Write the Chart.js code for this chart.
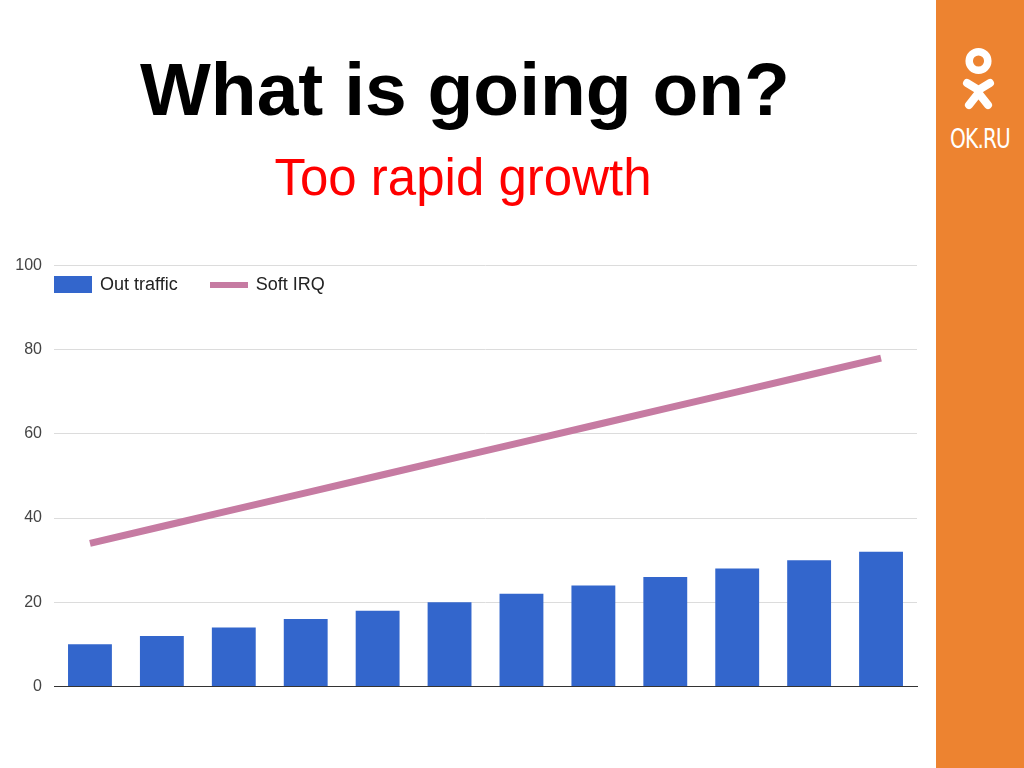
<!DOCTYPE html>
<html lang="en">
<head>
  <meta charset="UTF-8">
  <title>What is going on?</title>
  <style>
* {
  margin: 0;
  padding: 0;
  box-sizing: border-box;
}
body {
  width: 1024px;
  height: 768px;
  position: relative;
  overflow: hidden;
  background: #fff;
  font-family: "Liberation Sans", Arial, sans-serif;
}
h1 {
  position: absolute;
  left: 0;
  width: 930px;
  top: 44px;
  text-align: center;
  font-size: 75px;
  font-weight: bold;
  color: #000;
  line-height: 90px;
}
h2 {
  position: absolute;
  left: 0;
  width: 926px;
  top: 148px;
  text-align: center;
  font-size: 51px;
  font-weight: normal;
  color: #ff0000;
  line-height: 60px;
}
.side {
  position: absolute;
  left: 936px;
  top: 0;
  width: 88px;
  height: 768px;
  background: #ed8330;
}
.side svg {
  position: absolute;
  left: 0;
  top: 0;
}
.side span {
  position: absolute;
  left: 0;
  width: 88px;
  top: 126px;
  text-align: center;
  color: #fff;
  font-family: "DejaVu Sans Condensed", "DejaVu Sans", sans-serif;
  font-stretch: condensed;
  font-size: 26px;
  line-height: 26px;
  letter-spacing: -1px;
  transform: scaleX(0.86);
}
.chart-box {
  position: absolute;
  left: 0;
  top: 244px;
  width: 936px;
  height: 464px;
}
.legend {
  position: absolute;
  left: 54px;
  top: 274px;
  display: flex;
  align-items: center;
  font-size: 18px;
  color: #222;
}
.legend .item {
  display: flex;
  align-items: center;
  margin-right: 32px;
}
.legend .box {
  width: 38px;
  height: 17px;
  margin-right: 8px;
}
.legend .ln {
  width: 38px;
  height: 6px;
  margin-right: 8px;
}
  </style>
</head>
<body>
  <h1>What is going on?</h1>
  <h2>Too rapid growth</h2>

  <div class="side">
    <svg width="88" height="120">
      <circle cx="42.5" cy="61" r="9.3" fill="none" stroke="#fff" stroke-width="7.5"/>
      <polyline points="31,83 42.5,90 54,83" fill="none" stroke="#fff" stroke-width="8" stroke-linecap="round" stroke-linejoin="round"/>
      <polyline points="33,105 42.5,93 52,105" fill="none" stroke="#fff" stroke-width="8" stroke-linecap="round" stroke-linejoin="round"/>
    </svg>
    <span>OK.RU</span>
  </div>

  <div class="chart-box">
    <canvas id="myChart"></canvas>
  </div>

  <div class="legend">
    <div class="item"><div class="box" style="background:#3366cc"></div>Out traffic</div>
    <div class="item"><div class="ln" style="background:#c67ba2"></div>Soft IRQ</div>
  </div>

  <script src="https://cdn.jsdelivr.net/npm/chart.js@4.4.0/dist/chart.umd.min.js"></script>
  <script>
    let categories = ['1', '2', '3', '4', '5', '6', '7', '8', '9', '10', '11', '12'];
    let outTraffic = [10, 12, 14, 16, 18, 20, 22, 24, 26, 28, 30, 32];
    let softIrq = [34, 38, 42, 46, 50, 54, 58, 62, 66, 70, 74, 78];
    let yTicks = [0, 20, 40, 60, 80, 100];

    let ctx = document.getElementById('myChart').getContext('2d');

    let myChart = new Chart(ctx, {
      type: 'bar',
      data: {
        labels: categories,
        datasets: [
          {
            type: 'line',
            label: 'Soft IRQ',
            data: softIrq,
            borderColor: '#c67ba2',
            backgroundColor: '#c67ba2',
            borderWidth: 7,
            pointRadius: 0,
            tension: 0,
            order: 0
          },
          {
            label: 'Out traffic',
            data: outTraffic,
            backgroundColor: '#3366cc',
            barPercentage: 0.61,
            categoryPercentage: 1,
            order: 1
          }
        ]
      },
      options: {
        responsive: true,
        maintainAspectRatio: false,
        animation: false,
        layout: {
          padding: { left: 0, top: 9, right: 19, bottom: 18 }
        },
        plugins: {
          legend: { display: false },
          tooltip: { enabled: false }
        },
        scales: {
          x: {
            grid: { display: false },
            ticks: { display: false },
            border: { display: true, color: '#333', width: 1 },
            afterFit: s => { s.height = 0; }
          },
          y: {
            min: 0,
            max: 100,
            afterBuildTicks: s => { s.ticks = yTicks.map(v => ({ value: v })); },
            afterFit: s => { s.width = 54; },
            grid: { color: '#dcdcdc', drawTicks: false },
            border: { display: false },
            ticks: {
              padding: 12,
              color: '#444',
              font: { family: '"Liberation Sans", Arial, sans-serif', size: 16 }
            }
          }
        }
      }
    });
  </script>
</body>
</html>
